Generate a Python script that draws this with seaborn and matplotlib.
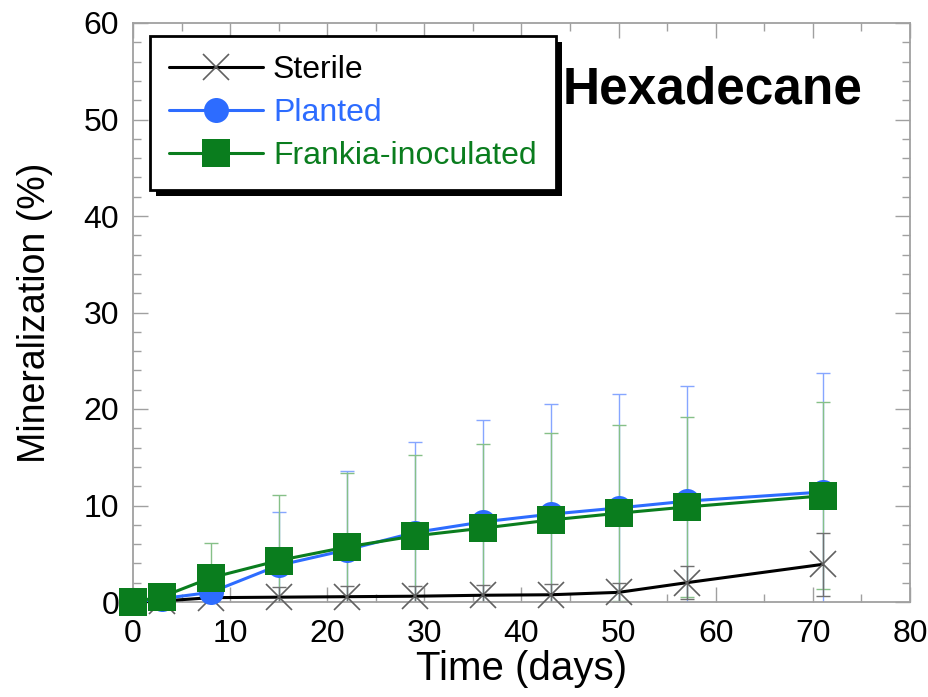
import matplotlib
matplotlib.use("Agg")
import matplotlib.pyplot as plt
from matplotlib.lines import Line2D
from matplotlib.patches import Rectangle
from matplotlib.transforms import IdentityTransform
from matplotlib.ticker import MultipleLocator
import numpy as np
import pandas as pd
import seaborn as sns

# ---------------- data ----------------
days = [0, 3, 8, 15, 22, 29, 36, 43, 50, 57, 71]
series_names = ["Sterile", "Planted", "Frankia-inoculated"]
sterile_mean = [0.0, 0.1, 0.45, 0.5, 0.55, 0.6, 0.7, 0.75, 1.0, 2.0, 3.9]
sterile_sd = [0.1, 0.2, 0.6, 1.1, 1.1, 1.1, 1.1, 1.1, 1.0, 1.7, 3.3]
planted_mean = [0.0, 0.35, 1.0, 3.8, 5.4, 7.2, 8.3, 9.1, 9.75, 10.45, 11.4]
planted_sd = [0.2, 0.4, 2.5, 5.5, 8.2, 9.4, 10.6, 11.4, 11.8, 11.9, 12.3]
frankia_mean = [0.0, 0.55, 2.5, 4.3, 5.7, 6.85, 7.65, 8.5, 9.2, 9.85, 11.0]
frankia_sd = [0.2, 0.5, 3.6, 6.75, 7.7, 8.4, 8.75, 9.0, 9.1, 9.35, 9.7]
x_ticks = [0, 10, 20, 30, 40, 50, 60, 70, 80]
y_ticks = [0, 10, 20, 30, 40, 50, 60]

df = pd.DataFrame({
    "day": days * 3,
    "value": sterile_mean + planted_mean + frankia_mean,
    "sd": sterile_sd + planted_sd + frankia_sd,
    "series": sum([[n] * len(days) for n in series_names], []),
})

# ---------------- style ----------------
sns.set_theme(style="ticks")
plt.rcParams["font.family"] = ["Liberation Sans", "DejaVu Sans"]
plt.rcParams["text.color"] = "black"
plt.rcParams["axes.labelcolor"] = "black"
plt.rcParams["xtick.labelcolor"] = "black"
plt.rcParams["ytick.labelcolor"] = "black"

BLUE = "#2d6cff"
GREEN = "#0a7d1e"
FRAME = "#a0a0a0"

fig = plt.figure(figsize=(9.29, 6.97), dpi=100)
ax = fig.add_axes([133 / 929, 1 - 602 / 697, 777 / 929, 579 / 697])

styles = {
    "Sterile": dict(color="black", marker="x", ms=19, mec="#606060", mew=1.2,
                    mfc="none", err="#707070", ez=2.3, z=3),
    "Planted": dict(color=BLUE, marker="o", ms=18, mec=BLUE, mew=0,
                    mfc=BLUE, err="#86a6ff", ez=2.1, z=4),
    "Frankia-inoculated": dict(color=GREEN, marker="s", ms=19.5, mec=GREEN, mew=0,
                               mfc=GREEN, err="#86c088", ez=2.2, z=5),
}

# error bars first
for name in ["Planted", "Frankia-inoculated", "Sterile"]:
    sub = df[df["series"] == name]
    st = styles[name]
    ax.errorbar(sub["day"], sub["value"], yerr=sub["sd"], fmt="none",
                ecolor=st["err"], elinewidth=1.0, capsize=5, capthick=1.0,
                zorder=st["ez"])

# lines with markers via seaborn
for name in series_names:
    sub = df[df["series"] == name]
    st = styles[name]
    sns.lineplot(data=sub, x="day", y="value", ax=ax, color=st["color"],
                 linewidth=2.2, marker=st["marker"], markersize=st["ms"],
                 markeredgecolor=st["mec"], markeredgewidth=st["mew"],
                 markerfacecolor=st["mfc"], zorder=st["z"], clip_on=False,
                 legend=False, errorbar=None)

ax.set_xlim(0, 80)
ax.set_ylim(0, 60)
ax.set_xticks(x_ticks)
ax.set_yticks(y_ticks)
ax.xaxis.set_minor_locator(MultipleLocator(5))
ax.yaxis.set_minor_locator(MultipleLocator(2))
ax.tick_params(which="both", direction="in", top=True, right=True,
               color=FRAME, width=1.0)
ax.tick_params(which="major", length=11, labelsize=23, pad=10, labelcolor="black")
ax.tick_params(axis="x", which="major", pad=12)
ax.tick_params(which="minor", length=6)
for sp in ax.spines.values():
    sp.set_color(FRAME)
    sp.set_linewidth(1.3)

ax.set_xlabel("Time (days)", fontsize=29, labelpad=1, color="black")
ax.set_ylabel("Mineralization (%)", fontsize=27, labelpad=22, color="black")

fig.text(563 / 929, 1 - 103 / 697, "Hexadecane", fontsize=37,
         fontweight="bold", ha="left", va="baseline", color="black")

handles = []
for name in series_names:
    st = styles[name]
    handles.append(Line2D([], [], color=st["color"], linewidth=2.2,
                          marker=st["marker"], markersize=st["ms"],
                          markeredgecolor=st["mec"], markeredgewidth=st["mew"],
                          markerfacecolor=st["mfc"]))
leg = ax.legend(handles, series_names, loc="upper left",
                bbox_to_anchor=(17 / 777, 1 - 13 / 579), borderaxespad=0,
                fontsize=23, frameon=True, fancybox=False, edgecolor="black",
                handlelength=2.95, handletextpad=0.3, labelspacing=0.4,
                borderpad=0.6, labelcolor="linecolor")
leg.get_frame().set_linewidth(2.0)
leg.get_frame().set_alpha(1)
leg.set_zorder(10)

fig.canvas.draw()
bb = leg.get_window_extent()
shadow = Rectangle((bb.x0 + 6, bb.y0 - 6), bb.width, bb.height,
                   transform=IdentityTransform(), facecolor="black",
                   edgecolor="none", zorder=9.9, clip_on=False)
ax.add_patch(shadow)

fig.savefig("out.png", dpi=100)
